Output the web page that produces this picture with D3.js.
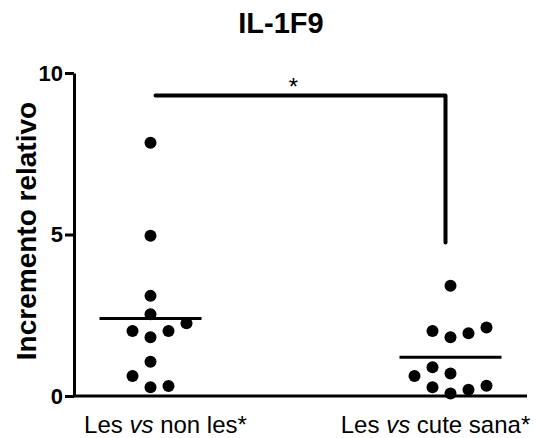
<!DOCTYPE html>
<html>
<head>
<meta charset="utf-8">
<script src="https://cdn.jsdelivr.net/npm/d3@7"></script>
<style>
	body { margin: 0; background: #fff; }
	svg { display: block; font-family: "Liberation Sans", Arial, sans-serif; }
</style>
</head>
<body>
<svg id="chart" width="538" height="438"></svg>
<script>
// data
const groups = ["Les vs non les*", "Les vs cute sana*"];
const lesNonLes = [7.84, 4.96, 3.10, 2.53, 1.82, 2.01, 2.01, 2.25, 1.06, 0.62, 0.27, 0.31];
const lesCuteSana = [3.41, 1.82, 2.01, 1.94, 2.12, 0.70, 0.89, 0.08, 0.27, 0.19, 0.32, 0.62];
const yTicks = [0, 5, 10];
const sigBar = [9.3, 4.75]; // bracket top, right leg end
const sigLabel = "*";

const W = 538, H = 438;
const X0 = 74, X1 = 527, Y0 = 396, Y1 = 73;
const R = 6;

let svg = d3.select("svg#chart");

let x = d3.scalePoint()
	.domain(groups)
	.range([X0, X1])
	.padding(0.255);

let y = d3.scaleLinear()
	.domain([0, 10])
	.range([Y0, Y1]);

// title
svg.append("text")
	.text("IL-1F9")
	.attr("x", 281)
	.attr("y", 33)
	.attr("text-anchor", "middle")
	.style("font-weight", "bold")
	.style("font-size", "29px")
	;

// y axis
let yAxis = svg.append("g")
	.attr("transform", `translate(${X0},0)`)
	.call(d3.axisLeft(y).tickValues(yTicks).tickSize(9).tickSizeOuter(0).tickPadding(2));
yAxis.select(".domain").attr("stroke", "#000").attr("stroke-width", 3);
yAxis.selectAll(".tick line").attr("stroke", "#000").attr("stroke-width", 3);
yAxis.selectAll(".tick text")
	.attr("fill", "#000")
	.style("font-family", "'Liberation Sans', Arial, sans-serif")
	.style("font-weight", "bold")
	.style("font-size", "22px")
	;

svg.append("text")
	.text("Incremento relativo")
	.attr("transform", `translate(36,${231}) rotate(-90)`)
	.attr("text-anchor", "middle")
	.style("font-weight", "bold")
	.style("font-size", "28px")
	;

// x axis line
svg.append("line")
	.attr("x1", X0)
	.attr("x2", X1)
	.attr("y1", y(0))
	.attr("y2", y(0))
	.attr("stroke", "#000")
	.attr("stroke-width", 3)
	;

// x labels, "vs" in italics
let labelShift = [15, -15];
groups.forEach((g, i) => {
	let parts = g.split(" vs ");
	let t = svg.append("text")
		.attr("x", x(g) + labelShift[i])
		.attr("y", 433)
		.attr("text-anchor", "middle")
		.style("font-size", "24px")
		;
	t.append("tspan").text(parts[0] + " ");
	t.append("tspan").text("vs").style("font-style", "italic");
	t.append("tspan").text(" " + parts[1]);
});

// simple column scatter: put each point in the first free column
function layout(values) {
	let placed = [];
	let cols = [0, -1, 1, 2, -2, 3, -3];
	let step = R * 3, minDist = R * 2.5;
	values.forEach(v => {
		let py = y(v);
		for (let c of cols) {
			let px = c * step;
			let hit = placed.some(p => Math.hypot(p.dx - px, p.py - py) < minDist);
			if (!hit) { placed.push({ v: v, dx: px, py: py }); break; }
		}
	});
	return placed;
}

[lesNonLes, lesCuteSana].forEach((vals, i) => {
	let cx = x(groups[i]);
	svg.append("g").selectAll("circle")
		.data(layout(vals))
		.join("circle")
		.attr("cx", d => cx + d.dx)
		.attr("cy", d => d.py)
		.attr("r", R)
		.attr("fill", "#000")
		;
	svg.append("line")
		.attr("x1", cx - 51)
		.attr("x2", cx + 51)
		.attr("y1", y(d3.mean(vals)))
		.attr("y2", y(d3.mean(vals)))
		.attr("stroke", "#000")
		.attr("stroke-width", 3)
		;
});

// significance bracket
let bx1 = x(groups[0]) + 5, bx2 = x(groups[1]) - 5;
svg.append("path")
	.attr("d", `M${bx1},${y(sigBar[0])}H${bx2}V${y(sigBar[1])}`)
	.attr("fill", "none")
	.attr("stroke", "#000")
	.attr("stroke-width", 4)
	.attr("stroke-linejoin", "round")
	.attr("stroke-linecap", "round")
	;
svg.append("text")
	.text(sigLabel)
	.attr("x", (bx1 + bx2) / 2 - 7)
	.attr("y", y(sigBar[0]) - 1)
	.attr("text-anchor", "middle")
	.style("font-size", "24px")
	;
</script>
</body>
</html>
